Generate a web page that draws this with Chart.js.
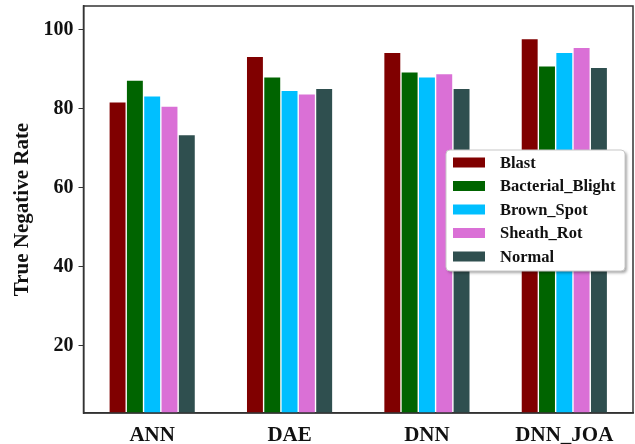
<!DOCTYPE html>
<html>
<head>
<meta charset="utf-8">
<script src="https://cdn.jsdelivr.net/npm/chart.js@4.4.1/dist/chart.umd.min.js"></script>
<style>
  html, body { margin: 0; padding: 0; background: #fff; }
  #wrap { width: 635px; height: 444px; }
</style>
</head>
<body>
<div id="wrap"><canvas id="myChart" width="635" height="444"></canvas></div>
<script>
// values
const categories = ['ANN', 'DAE', 'DNN', 'DNN_JOA'];
const seriesNames = ['Blast', 'Bacterial_Blight', 'Brown_Spot', 'Sheath_Rot', 'Normal'];
const seriesColors = ['#800000', '#006400', '#00bfff', '#da70d6', '#2f4f4f'];
const blast = [81.6, 93.1, 94.1, 97.6];
const bacterialBlight = [87.1, 87.9, 89.2, 90.7];
const brownSpot = [83.1, 84.5, 87.9, 94.1];
const sheathRot = [80.5, 83.6, 88.7, 95.4];
const normal = [73.3, 85.0, 85.0, 90.3];
const yTicks = [20, 40, 60, 80, 100];

const serif = "'Liberation Serif', 'Times New Roman', serif";
const allSeries = [blast, bacterialBlight, brownSpot, sheathRot, normal];

// box round the plot
const frame = {
  id: 'frame',
  afterDraw(chart) {
    const a = chart.chartArea, ctx = chart.ctx;
    ctx.save();
    ctx.strokeStyle = '#333';
    ctx.lineWidth = 1.5;
    ctx.strokeRect(a.left, a.top, a.right - a.left, a.bottom - a.top);
    ctx.restore();
  }
};

// legend drawn inside the plot, on the right
const innerLegend = {
  id: 'innerLegend',
  afterDraw(chart) {
    const ctx = chart.ctx;
    const x = 446, y = 150, w = 179, h = 121;
    ctx.save();
    ctx.shadowColor = 'rgba(0,0,0,0.35)';
    ctx.shadowBlur = 3;
    ctx.shadowOffsetX = 2;
    ctx.shadowOffsetY = 2;
    ctx.fillStyle = '#fff';
    ctx.beginPath();
    ctx.roundRect(x, y, w, h, 4);
    ctx.fill();
    ctx.shadowColor = 'transparent';
    ctx.strokeStyle = '#c8c8c8';
    ctx.lineWidth = 1;
    ctx.stroke();
    ctx.font = 'bold 16.5px ' + serif;
    ctx.textBaseline = 'middle';
    chart.data.datasets.forEach(function (ds, i) {
      const cy = y + 12.5 + i * 23.5;
      ctx.fillStyle = ds.backgroundColor;
      ctx.fillRect(x + 7, cy - 5, 32, 10);
      ctx.fillStyle = '#111';
      ctx.fillText(ds.label, x + 54, cy + 1);
    });
    ctx.restore();
  }
};

new Chart('myChart', {
  type: 'bar',
  data: {
    labels: categories,
    datasets: seriesNames.map(function (name, i) {
      return {
        label: name,
        data: allSeries[i],
        backgroundColor: seriesColors[i],
        borderWidth: 0,
        barPercentage: 0.92,
        categoryPercentage: 0.63
      };
    })
  },
  options: {
    responsive: false,
    animation: false,
    layout: { padding: { left: 0, right: 2, top: 6, bottom: 0 } },
    plugins: {
      legend: { display: false },
      tooltip: { enabled: false }
    },
    scales: {
      x: {
        grid: { display: false },
        border: { display: true, color: '#333', width: 1.5 },
        ticks: {
          color: '#111',
          padding: 2,
          font: { family: serif, size: 21, weight: 'bold' }
        },
        afterFit(scale) {
          scale.height = 31;
          scale.paddingLeft = 0;
          scale.paddingRight = 0;
        }
      },
      y: {
        min: 3,
        max: 106,
        grid: { drawOnChartArea: false, drawTicks: true, tickLength: 5, color: '#333' },
        border: { display: true, color: '#333', width: 1.5 },
        ticks: {
          color: '#111',
          padding: 5,
          font: { family: serif, size: 20, weight: 'bold' }
        },
        afterBuildTicks(scale) {
          scale.ticks = yTicks.map(function (v) { return { value: v }; });
        },
        title: {
          display: true,
          text: 'True Negative Rate',
          color: '#111',
          padding: { top: 10, bottom: 0 },
          font: { family: serif, size: 21, weight: 'bold' }
        },
        afterFit(scale) {
          scale.width = 83.5;
          scale.paddingTop = 0;
          scale.paddingBottom = 0;
        }
      }
    }
  },
  plugins: [frame, innerLegend]
});
</script>
</body>
</html>
